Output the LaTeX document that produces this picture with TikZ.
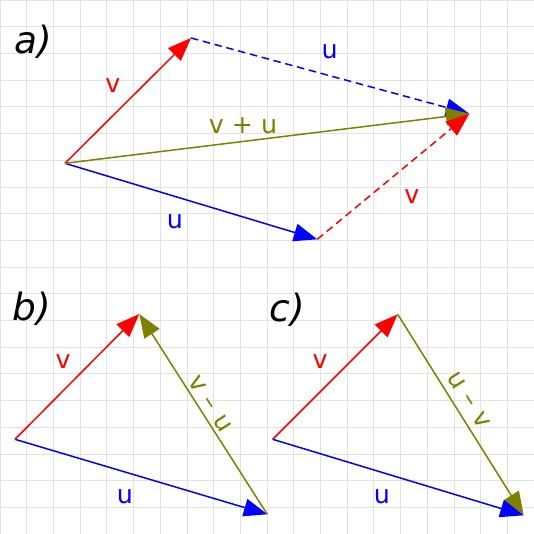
\documentclass[tikz,border=0pt]{standalone}
\usepackage{fontspec}
\setmainfont{DejaVu Sans}
\usetikzlibrary{arrows.meta}
\definecolor{gridc}{RGB}{226,226,226}
\definecolor{olivec}{RGB}{128,128,0}
\tikzset{
  vec/.style={line width=1.6pt, -{Triangle[length=25pt,width=19pt]}},
  dashvec/.style={vec, dash pattern=on 8pt off 5pt},
  lbl/.style={font=\fontsize{27}{29}\selectfont, inner sep=0pt},
  panel/.style={font=\fontsize{40}{44}\selectfont, inner sep=0pt},
}
\begin{document}
\begin{tikzpicture}[x=1cm,y=-1cm]
\useasboundingbox (0,0) rectangle (20,20);
\fill[white] (0,0) rectangle (20,20);
\draw[gridc, line width=0.8pt] (0,0) grid (20,20);

% panel a
\coordinate (Oa) at (2.434,6.116);
\coordinate (Va) at (7.154,1.423);
\coordinate (Sa) at (17.577,4.258);
\coordinate (Ua) at (11.884,8.963);
\node[panel] (la) at (1.236,1.573) {\itshape a)};
\draw[vec, red] (Oa) -- (Va);
\draw[vec, blue] (Oa) -- (Ua);
\draw[dashvec, blue] (Va) -- (Sa);
\draw[vec, olivec] (Oa) -- (Sa);
\draw[dashvec, red] (Ua) -- (Sa);
\node[lbl, red] (lav) at (4.232,3.221) {v};
\node[lbl, olivec] (lavu) at (9.10,4.72) {v + u};
\node[lbl, blue] (lau) at (6.554,8.315) {u};
\node[lbl, blue] (lau2) at (12.348,1.936) {u};
\node[lbl, red] (lav2) at (15.43,7.378) {v};

% panel b
\coordinate (Ob) at (0.562,16.453);
\coordinate (Vb) at (5.217,11.760);
\coordinate (Ub) at (10.011,19.262);
\node[panel] (lb) at (1.199,11.573) {\itshape b)};
\draw[vec, blue] (Ob) -- (Ub);
\draw[vec, red] (Ob) -- (Vb);
\draw[vec, olivec] (Ub) -- (Vb);
\node[lbl, red] (lbv) at (2.360,13.558) {v};
\node[lbl, blue] (lbu) at (4.682,18.614) {u};
\node[lbl, olivec, rotate=-57.4] (lbd) at (7.865,15.131) {v\hspace{0.35em}–\hspace{0.35em}u};

% panel c
\coordinate (Oc) at (10.213,16.453);
\coordinate (Vc) at (14.895,11.772);
\coordinate (Uc) at (19.614,19.300);
\node[panel] (lc) at (10.749,11.610) {\itshape c)};
\draw[vec, red] (Oc) -- (Vc);
\draw[vec, olivec] (Vc) -- (Uc);
\draw[vec, blue] (Oc) -- (Uc);
\node[lbl, red] (lcv) at (11.985,13.558) {v};
\node[lbl, blue] (lcu) at (14.307,18.614) {u};
\node[lbl, olivec, rotate=-57.9] (lcd) at (17.566,14.981) {u\hspace{0.35em}–\hspace{0.35em}v};
\end{tikzpicture}
\end{document}
